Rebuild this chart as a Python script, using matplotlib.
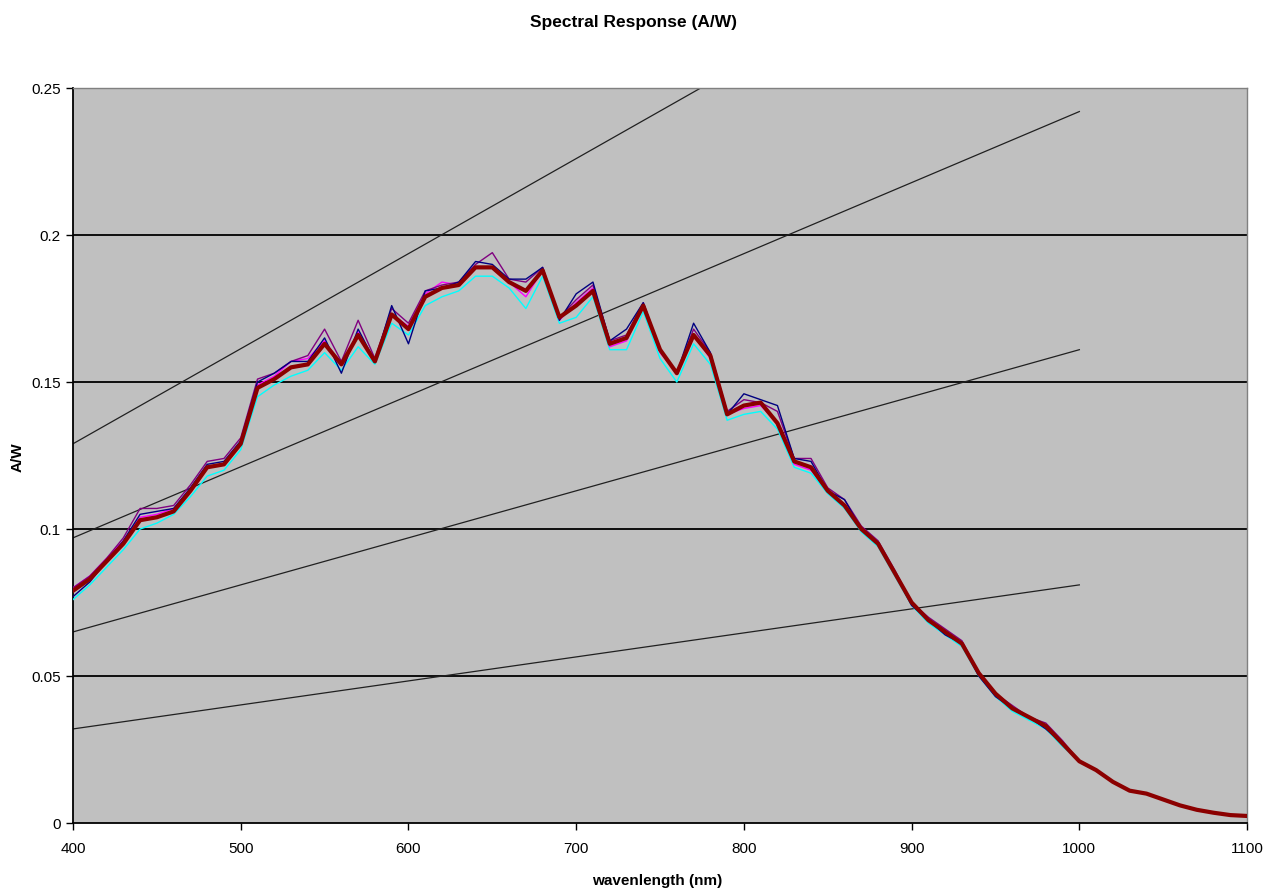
import matplotlib
matplotlib.use('Agg')
import matplotlib.pyplot as plt
import numpy as np

plt.rcParams['font.family'] = ['Liberation Sans Narrow', 'Liberation Sans', 'DejaVu Sans']

#-------------------------------------------------------------------------------
# data (wavelength nm / responsivity A/W)
#-------------------------------------------------------------------------------
wavelength = list(range(400, 1101, 10))

resp_avg = [0.079, 0.083, 0.089, 0.095, 0.103, 0.104, 0.106, 0.113, 0.121, 0.122,
            0.129, 0.148, 0.151, 0.155, 0.156, 0.163, 0.156, 0.166, 0.157, 0.173,
            0.168, 0.179, 0.182, 0.183, 0.189, 0.189, 0.184, 0.181, 0.188, 0.172,
            0.176, 0.181, 0.163, 0.165, 0.176, 0.161, 0.153, 0.166, 0.159, 0.139,
            0.142, 0.143, 0.136, 0.123, 0.121, 0.113, 0.108, 0.100, 0.095, 0.085,
            0.075, 0.069, 0.065, 0.061, 0.051, 0.044, 0.039, 0.036, 0.033, 0.027,
            0.021, 0.018, 0.014, 0.011, 0.010, 0.008, 0.006, 0.0045, 0.0035, 0.0027,
            0.0024]

resp_navy = [0.077, 0.082, 0.089, 0.096, 0.105, 0.106, 0.107, 0.114, 0.122, 0.123,
             0.130, 0.150, 0.153, 0.157, 0.157, 0.165, 0.153, 0.168, 0.157, 0.176,
             0.163, 0.181, 0.182, 0.184, 0.191, 0.190, 0.185, 0.185, 0.189, 0.171,
             0.180, 0.184, 0.164, 0.168, 0.177, 0.161, 0.153, 0.170, 0.160, 0.139,
             0.146, 0.144, 0.142, 0.124, 0.123, 0.113, 0.110, 0.100, 0.095, 0.085,
             0.074, 0.069, 0.064, 0.061, 0.050, 0.043, 0.039, 0.036, 0.032, 0.027,
             0.021, 0.018, 0.014, 0.011, 0.010, 0.008, 0.006, 0.0045, 0.0035, 0.0027,
             0.0024]

resp_purple = [0.080, 0.084, 0.090, 0.097, 0.107, 0.107, 0.108, 0.115, 0.123, 0.124,
               0.131, 0.151, 0.153, 0.157, 0.159, 0.168, 0.157, 0.171, 0.158, 0.175,
               0.170, 0.181, 0.183, 0.184, 0.190, 0.194, 0.185, 0.184, 0.189, 0.172,
               0.178, 0.183, 0.164, 0.166, 0.177, 0.161, 0.153, 0.168, 0.160, 0.140,
               0.144, 0.143, 0.140, 0.124, 0.124, 0.114, 0.110, 0.101, 0.096, 0.086,
               0.075, 0.070, 0.066, 0.062, 0.051, 0.044, 0.040, 0.036, 0.034, 0.028,
               0.021, 0.018, 0.014, 0.011, 0.010, 0.008, 0.006, 0.0045, 0.0035, 0.0027,
               0.0024]

resp_magenta = [0.080, 0.084, 0.090, 0.096, 0.104, 0.105, 0.107, 0.113, 0.121, 0.122,
                0.129, 0.149, 0.152, 0.157, 0.158, 0.164, 0.156, 0.167, 0.157, 0.173,
                0.169, 0.180, 0.184, 0.183, 0.189, 0.189, 0.184, 0.179, 0.188, 0.171,
                0.177, 0.182, 0.162, 0.164, 0.176, 0.160, 0.153, 0.166, 0.158, 0.139,
                0.141, 0.142, 0.136, 0.122, 0.120, 0.113, 0.108, 0.100, 0.095, 0.085,
                0.075, 0.069, 0.065, 0.061, 0.051, 0.044, 0.039, 0.036, 0.033, 0.027,
                0.021, 0.018, 0.014, 0.011, 0.010, 0.008, 0.006, 0.0045, 0.0035, 0.0027,
                0.0024]

resp_cyan = [0.076, 0.081, 0.087, 0.093, 0.100, 0.102, 0.105, 0.111, 0.118, 0.120,
             0.127, 0.145, 0.149, 0.152, 0.154, 0.160, 0.154, 0.162, 0.156, 0.170,
             0.166, 0.176, 0.179, 0.181, 0.186, 0.186, 0.182, 0.175, 0.186, 0.170,
             0.172, 0.179, 0.161, 0.161, 0.174, 0.158, 0.150, 0.163, 0.156, 0.137,
             0.139, 0.140, 0.134, 0.121, 0.119, 0.112, 0.107, 0.099, 0.094, 0.084,
             0.074, 0.068, 0.064, 0.060, 0.050, 0.043, 0.038, 0.035, 0.032, 0.026,
             0.021, 0.018, 0.014, 0.011, 0.010, 0.008, 0.006, 0.0045, 0.0035, 0.0027,
             0.0024]

# reference lines (constant quantum efficiency), end points
ref_wl = [400, 1000]
ref_start = [0.032, 0.065, 0.097, 0.129]
ref_end = [0.081, 0.161, 0.242, 0.323]

#-------------------------------------------------------------------------------
fig = plt.figure(figsize=(12.72, 8.91), dpi=100)
ax = fig.add_axes([0.0574, 0.0763, 0.9230, 0.8249])
ax.set_facecolor('#C0C0C0')

for y in [0.05, 0.1, 0.15, 0.2]:
    ax.axhline(y, color='black', lw=1.3, zorder=1)

for s, e in zip(ref_start, ref_end):
    ax.plot(ref_wl, [s, e], color='#202020', lw=0.9, zorder=2)

ax.plot(wavelength, resp_cyan, color='#00FFFF', lw=1.0, zorder=3)
ax.plot(wavelength, resp_magenta, color='#FF00FF', lw=1.0, zorder=3)
ax.plot(wavelength, resp_purple, color='#800080', lw=1.0, zorder=3)
ax.plot(wavelength, resp_navy, color='#000080', lw=1.0, zorder=3)
ax.plot(wavelength, resp_avg, color='#8B0000', lw=3.0, zorder=4)

ax.set_xlim(400, 1100)
ax.set_ylim(0, 0.25)
ax.set_xticks([400, 500, 600, 700, 800, 900, 1000, 1100])
ax.set_yticks([0, 0.05, 0.1, 0.15, 0.2, 0.25])
ax.set_yticklabels(['0', '0.05', '0.1', '0.15', '0.2', '0.25'])
ax.tick_params(direction='out', length=5, width=1, labelsize=11, colors='black')
ax.tick_params(axis='x', pad=9)
ax.tick_params(axis='y', pad=4)

for side in ['top', 'right']:
    ax.spines[side].set_color('#808080')
    ax.spines[side].set_linewidth(1)
for side in ['left', 'bottom']:
    ax.spines[side].set_color('black')
    ax.spines[side].set_linewidth(1.3)

fig.text(0.498, 0.975, 'Spectral Response (A/W)', ha='center', va='center',
         fontsize=12.5, fontweight='bold')
fig.text(0.517, 0.011, 'wavenlength (nm)', ha='center', va='center',
         fontsize=11, fontweight='bold')
fig.text(0.014, 0.487, 'A/W', ha='center', va='center', rotation=90,
         fontsize=11, fontweight='bold')

plt.savefig('out.png', dpi=100)
